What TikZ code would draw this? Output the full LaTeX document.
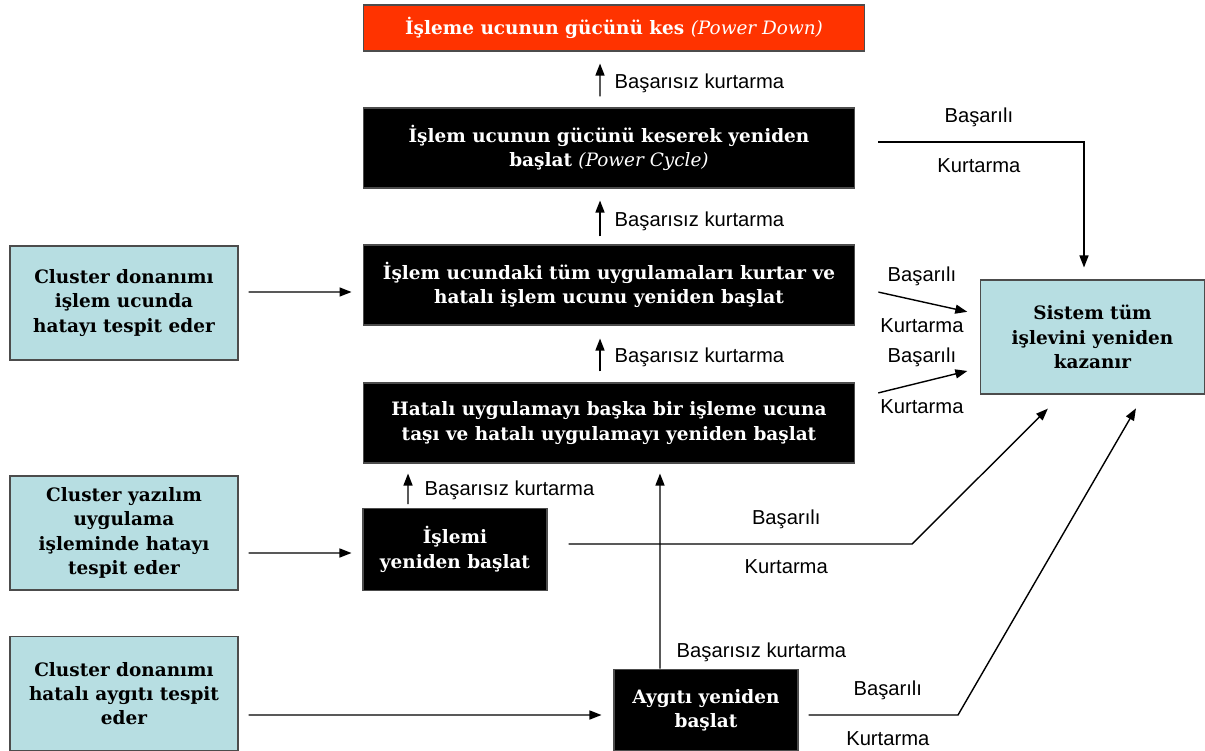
\documentclass[tikz,border=0pt]{standalone}
\usepackage{fontspec}
\setmainfont{DejaVu Serif}
\newfontfamily\labelfont{Liberation Sans}
\definecolor{boxcyan}{RGB}{183,222,226}
\definecolor{powerred}{RGB}{255,51,0}
\usetikzlibrary{arrows.meta}

\begin{document}
\begin{tikzpicture}[x=0.02cm,y=-0.02cm,
  box/.style={draw=black!70,line width=0.6pt,align=center,inner sep=2pt,
    font=\bfseries\fontsize{10.5}{13.8}\selectfont},
  blackbox/.style={box,fill=black,text=white},
  widebox/.style={blackbox,minimum width=9.84cm,minimum height=1.6cm},
  smallbox/.style={blackbox,minimum width=3.68cm,minimum height=1.63cm},
  cyanbox/.style={box,fill=boxcyan,text=black,minimum width=4.56cm,minimum height=2.28cm},
  arr/.style={-{Triangle[length=0.24cm,width=0.18cm]},line width=0.8pt},
  lbl/.style={font=\labelfont\fontsize{11.5}{13}\selectfont,inner sep=0pt}]
  \useasboundingbox (0,0) rectangle (1205,751);
  \node[box,fill=powerred,text=white,minimum width=10.04cm,minimum height=0.92cm] (down) at (614,28)
    {İşleme ucunun gücünü kes {\mdseries\itshape (Power Down)}};
  \node[widebox] (cycle) at (609,148) {İşlem ucunun gücünü keserek yeniden\\ başlat {\mdseries\itshape (Power Cycle)}};
  \node[widebox] (apps) at (609,285) {İşlem ucundaki tüm uygulamaları kurtar ve\\ hatalı işlem ucunu yeniden başlat};
  \node[widebox] (move) at (609,423) {Hatalı uygulamayı başka bir işleme ucuna\\ taşı ve hatalı uygulamayı yeniden başlat};
  \node[smallbox] (proc) at (455,549.5) {İşlemi\\ yeniden başlat};
  \node[smallbox] (dev) at (706,710) {Aygıtı yeniden\\ başlat};
  \node[cyanbox] (hw) at (124,303) {Cluster donanımı\\ işlem ucunda\\ hatayı tespit eder};
  \node[cyanbox] (sw) at (124,533) {Cluster yazılım\\ uygulama\\ işleminde hatayı\\ tespit eder};
  \node[cyanbox] (hwdev) at (124,693.5) {Cluster donanımı\\ hatalı aygıtı tespit\\ eder};
  \node[cyanbox,minimum width=4.5cm] (ok) at (1092.5,337) {Sistem tüm\\ işlevini yeniden\\ kazanır};
  \coordinate (pbend) at (912,544);
  \coordinate (dbend) at (958,715);

  \draw[arr,shorten <=0.22cm,shorten >=0.24cm] ([xshift=-0.18cm]cycle.north) -- ([xshift=-0.28cm]down.south)
    node[lbl,pos=0.44,right=0.28cm] {Başarısız kurtarma};
  \draw[arr,shorten <=0.16cm,shorten >=0.24cm] ([xshift=-0.18cm]apps.north) -- ([xshift=-0.18cm]cycle.south)
    node[lbl,pos=0.42,right=0.28cm] {Başarısız kurtarma};
  \draw[arr,shorten <=0.22cm,shorten >=0.26cm] ([xshift=-0.18cm]move.north) -- ([xshift=-0.18cm]apps.south)
    node[lbl,pos=0.45,right=0.28cm] {Başarısız kurtarma};
  \draw[arr,shorten <=0.08cm,shorten >=0.2cm] ([xshift=-0.94cm]proc.north) -- ([xshift=-4.02cm]move.south)
    node[lbl,pos=0.39,right=0.32cm] {Başarısız kurtarma};
  \draw[arr,shorten >=0.2cm] ([xshift=-0.92cm]dev.north) -- ([xshift=1.02cm]move.south)
    node[lbl,pos=0.08,right=0.32cm] {Başarısız kurtarma};

  \draw[arr,shorten <=0.2cm,shorten >=0.22cm] ([yshift=0.22cm]hw.east) -- ([yshift=-0.14cm]apps.west);
  \draw[arr,shorten <=0.2cm,shorten >=0.22cm] ([yshift=-0.4cm]sw.east) -- ([yshift=-0.07cm]proc.west);
  \draw[arr,shorten <=0.2cm,shorten >=0.24cm] ([yshift=-0.43cm]hwdev.east) -- ([yshift=-0.1cm]dev.west);

  \draw[arr,shorten <=0.46cm,shorten >=0.24cm] ([yshift=0.12cm]cycle.east) -| ([xshift=-0.17cm]ok.north)
    node[lbl,pos=0.27,yshift=0.5cm] {Başarılı} node[lbl,pos=0.27,yshift=-0.48cm] {Kurtarma};
  \draw[arr,shorten <=0.47cm,shorten >=0.25cm] ([yshift=-0.04cm]apps.east) -- ([yshift=0.45cm]ok.west)
    node[lbl,pos=0.536,yshift=0.5cm] {Başarılı} node[lbl,pos=0.536,yshift=-0.48cm] {Kurtarma};
  \draw[arr,shorten <=0.47cm,shorten >=0.25cm] ([yshift=0.49cm]move.east) -- ([yshift=-0.62cm]ok.west)
    node[lbl,pos=0.536,yshift=0.5cm] {Başarılı} node[lbl,pos=0.536,yshift=-0.48cm] {Kurtarma};
  \draw[arr,shorten <=0.42cm,shorten >=0.4cm] ([yshift=0.11cm]proc.east)
    -- node[lbl,pos=0.655,yshift=0.5cm] {Başarılı} node[lbl,pos=0.655,yshift=-0.46cm] {Kurtarma} (pbend)
    -- ([xshift=-0.61cm]ok.south);
  \draw[arr,shorten <=0.2cm,shorten >=0.32cm] ([yshift=-0.1cm]dev.east)
    -- node[lbl,pos=0.56,yshift=0.5cm] {Başarılı} node[lbl,pos=0.56,yshift=-0.48cm] {Kurtarma} (dbend)
    -- ([xshift=1.03cm]ok.south);
\end{tikzpicture}
\end{document}
